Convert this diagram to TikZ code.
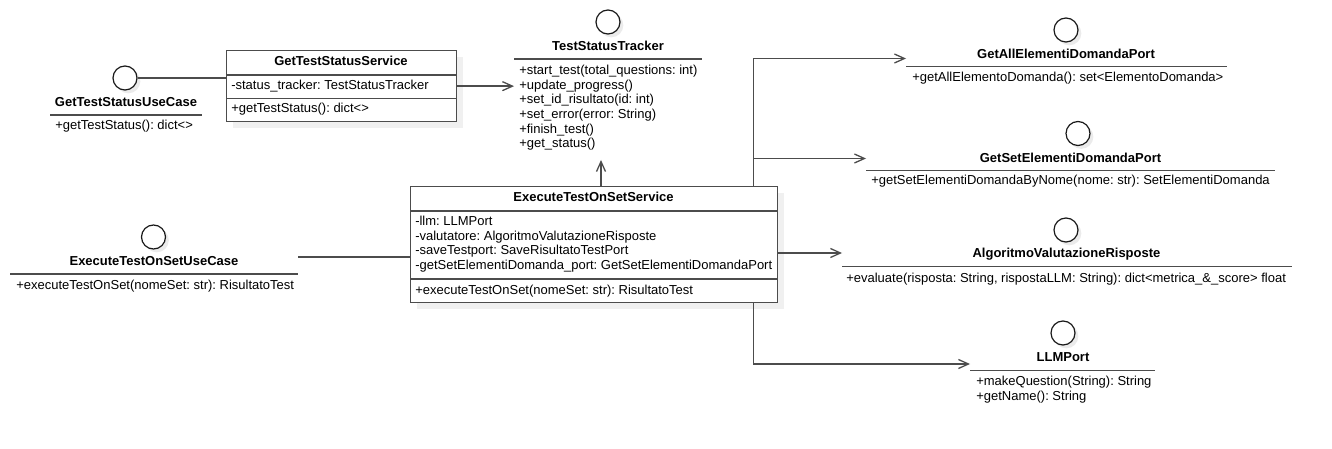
\documentclass[tikz,border=0pt]{standalone}
\usepackage{fontspec}
\setmainfont{Liberation Sans}
\usetikzlibrary{arrows.meta,shadows}
\frenchspacing

\newdimen\pxu
\pxu=0.75pt

\tikzset{
  classbox/.style={draw=black!70, line width=1.3\pxu, fill=white, anchor=north west, inner sep=0pt,
    drop shadow={shadow xshift=4.5pt, shadow yshift=-5pt, fill=black!6, opacity=1}},
  lolli/.style={circle, draw=black!90, line width=1.2\pxu, fill=white, minimum size=24\pxu, inner sep=0pt,
    drop shadow={shadow xshift=2.5pt, shadow yshift=-2.5pt, fill=black!8, opacity=1}},
  ttl/.style={font=\bfseries\fontsize{9.75}{11}\selectfont, inner sep=0pt, text height=9.5\pxu, text depth=2.5\pxu},
  mbr/.style={font=\fontsize{9.75}{11}\selectfont, anchor=west, inner sep=0pt, text height=9.5\pxu, text depth=2.5\pxu},
  sepline/.style={draw=black!70, line width=1.3\pxu},
  conn/.style={draw=black!70, line width=1.3\pxu},
  dep/.style={conn, -{Straight Barb[length=7.5pt, width=6.75pt]}},
}

\begin{document}
\begin{tikzpicture}[x=0.75pt,y=0.75pt,yscale=-1,xscale=1]
\useasboundingbox (0,0) rectangle (1332,449);

%Interface: GetTestStatusUseCase
\node[lolli] (statusUCc) at (125,78) {};
\node[ttl] (statusUC) at (126,103) {GetTestStatusUseCase};
\draw[sepline] (50,115) -- (202,115);
\node[mbr] (statusUC1) at (55,126) {+getTestStatus(): dict<>};

%Class: GetTestStatusService
\node[classbox, minimum width=230\pxu, minimum height=71\pxu] (statusSvc) at (226,50) {};
\node[ttl] (statusSvcT) at (341,62.5) {GetTestStatusService};
\draw[sepline] (226,75) -- (456,75);
\node[mbr] (statusSvc1) at (231,86.5) {-status\_tracker: TestStatusTracker};
\draw[sepline] (226,98.5) -- (456,98.5);
\node[mbr] (statusSvc2) at (231,109.5) {+getTestStatus(): dict<>};

%Interface: TestStatusTracker
\node[lolli] (trackerc) at (608,22) {};
\node[ttl] (tracker) at (608,47) {TestStatusTracker};
\draw[sepline] (514,59) -- (702,59);
\foreach \m [count=\i] in {+start\_test(total\_questions: int), +update\_progress(), +set\_id\_risultato(id: int), +set\_error(error: String), +finish\_test(), +get\_status()}
  \node[mbr] (tracker\i) at (519,56.3+14.7*\i) {\m};

%Class: ExecuteTestOnSetService
\node[classbox, minimum width=367\pxu, minimum height=116\pxu] (execSvc) at (410,186) {};
\node[ttl] (execSvcT) at (593.5,198.5) {ExecuteTestOnSetService};
\draw[sepline] (410,211) -- (777,211);
\foreach \m [count=\i] in {-llm: LLMPort, -valutatore: AlgoritmoValutazioneRisposte, -saveTestport: SaveRisultatoTestPort, -getSetElementiDomanda\_port: GetSetElementiDomandaPort}
  \node[mbr] (execSvc\i) at (415,207.4+14.6*\i) {\m};
\draw[sepline] (410,279) -- (777,279);
\node[mbr] (execSvcM) at (415,290.5) {+executeTestOnSet(nomeSet: str): RisultatoTest};

%Interface: ExecuteTestOnSetUseCase
\node[lolli] (execUCc) at (153.5,237) {};
\node[ttl] (execUC) at (154,262) {ExecuteTestOnSetUseCase};
\draw[sepline] (10,274) -- (298,274);
\node[mbr] (execUC1) at (16,285.5) {+executeTestOnSet(nomeSet: str): RisultatoTest};

%Interface: GetAllElementiDomandaPort
\node[lolli] (allPortc) at (1066,30) {};
\node[ttl] (allPort) at (1066,55) {GetAllElementiDomandaPort};
\draw[sepline] (906,66.7) -- (1227,66.7);
\node[mbr] (allPort1) at (912,77.7) {+getAllElementoDomanda(): set<ElementoDomanda>};

%Interface: GetSetElementiDomandaPort
\node[lolli] (setPortc) at (1078,133.5) {};
\node[ttl] (setPort) at (1070.5,159) {GetSetElementiDomandaPort};
\draw[sepline] (866,170.7) -- (1275,170.7);
\node[mbr] (setPort1) at (871,181.5) {+getSetElementiDomandaByNome(nome: str): SetElementiDomanda};

%Interface: AlgoritmoValutazioneRisposte
\node[lolli] (algoc) at (1066,230) {};
\node[ttl] (algo) at (1066.5,254) {AlgoritmoValutazioneRisposte};
\draw[sepline] (842,266.7) -- (1292,266.7);
\node[mbr] (algo1) at (846,278.5) {+evaluate(risposta: String, rispostaLLM: String): dict<metrica\_\&\_score> float};

%Interface: LLMPort
\node[lolli] (llmPortc) at (1063,333) {};
\node[ttl] (llmPort) at (1063,358.3) {LLMPort};
\draw[sepline] (970,370.7) -- (1155,370.7);
\node[mbr] (llmPort1) at (976,382) {+makeQuestion(String): String};
\node[mbr] (llmPort2) at (976,397) {+getName(): String};

%Connector ends
\coordinate (trkIn) at (514,85.5);
\coordinate (trkUp) at (601,160);
\coordinate (trunk) at (753.5,186);
\coordinate (allIn) at (906,58.5);
\coordinate (setIn) at (866,158.5);
\coordinate (algoIn) at (842,253);
\coordinate (llmIn) at (970,364);
\coordinate (execUCout) at (298,257);

%Connectors
\draw[conn] (statusUCc.east) -- (statusUCc.east -| statusSvc.west);
\draw[dep] (statusSvc.east) -- (statusSvc.east -| trkIn);
\draw[conn] (execUCout) -- (execUCout -| execSvc.west);
\draw[dep] (execSvc.north -| trkUp) -- (trkUp);
\draw[dep] (execSvc.north -| trunk) |- (allIn);
\draw[dep] (execSvc.north -| trunk) |- (setIn);
\draw[dep] (execSvc.east |- algoIn) -- (algoIn);
\draw[dep] (execSvc.south -| trunk) |- (llmIn);

\end{tikzpicture}
\end{document}
